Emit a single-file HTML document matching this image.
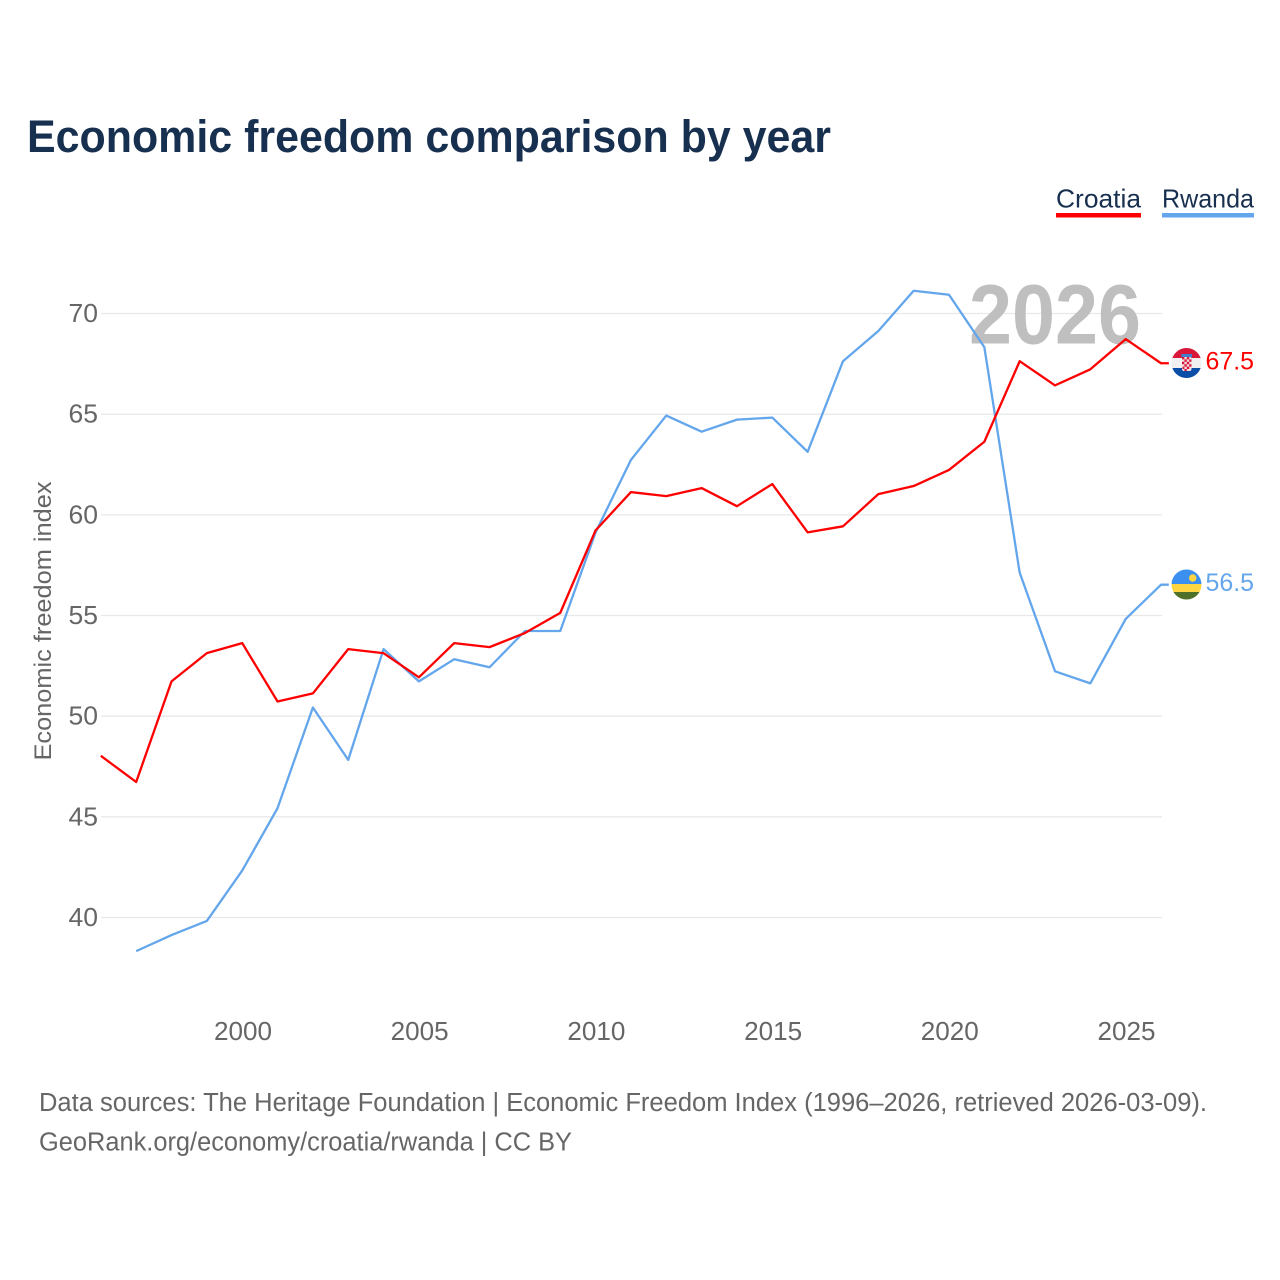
<!DOCTYPE html>
<html lang="en">
<head>
<meta charset="utf-8">
<title>Economic freedom comparison by year</title>
<style>
html,body{margin:0;padding:0;background:#fff;}
svg{display:block;}
text{font-family:"Liberation Sans",sans-serif;}
</style>
</head>
<body>
<svg id="chart" width="1280" height="1280" viewBox="0 0 1280 1280" xmlns="http://www.w3.org/2000/svg">
  <rect width="1280" height="1280" fill="#fff"/>
  <text x="27" y="152" font-size="45" font-weight="700" fill="#18304f" textLength="804" lengthAdjust="spacingAndGlyphs">Economic freedom comparison by year</text>

  <g>
    <text x="1056" y="207.5" font-size="26" fill="#18304f" textLength="85" lengthAdjust="spacingAndGlyphs">Croatia</text>
    <rect x="1056" y="213" width="85" height="4.5" fill="#ff0000"/>
  </g>
  <g>
    <text x="1162" y="207.5" font-size="26" fill="#18304f" textLength="92" lengthAdjust="spacingAndGlyphs">Rwanda</text>
    <rect x="1162" y="213" width="92" height="4.5" fill="#63a6ec"/>
  </g>

  <g id="grid"></g>
  <text x="1141" y="343.5" text-anchor="end" font-size="84" font-weight="700" fill="#bfbfbf" textLength="172" lengthAdjust="spacingAndGlyphs">2026</text>
  <g id="yticks"></g>
  <g id="xticks"></g>
  <text transform="translate(51,621) rotate(-90)" text-anchor="middle" font-size="24" fill="#666" textLength="279" lengthAdjust="spacingAndGlyphs">Economic freedom index</text>
  <g id="series"></g>

  <defs>
    <clipPath id="flag-clip-hr"><circle cx="1186.5" cy="363" r="15"/></clipPath>
    <clipPath id="flag-clip-rw"><circle cx="1186.5" cy="584.5" r="15"/></clipPath>
  </defs>
  <g clip-path="url(#flag-clip-hr)">
    <rect x="1171" y="348" width="31" height="10.5" fill="#d8173a"/>
    <rect x="1171" y="358" width="31" height="10.5" fill="#f0f0f0"/>
    <rect x="1171" y="368" width="31" height="11" fill="#0b4ea8"/>
    <rect x="1181.5" y="354" width="10.5" height="3.5" fill="#3f7fd0"/>
    <rect x="1182" y="357" width="9.5" height="14" rx="2" fill="#f3dfe0"/>
    <path d="M1182 357h2.4v2.4h-2.4zM1186.8 357h2.4v2.4h-2.4zM1184.4 359.4h2.4v2.4h-2.4zM1189.2 359.4h2.3v2.4h-2.3zM1182 361.8h2.4v2.4h-2.4zM1186.8 361.8h2.4v2.4h-2.4zM1184.4 364.2h2.4v2.4h-2.4zM1189.2 364.2h2.3v2.4h-2.3zM1182.5 366.6h1.9v2.4h-1.9zM1186.8 366.6h2.4v2.4h-2.4zM1184.4 369h2.4v2h-2.4z" fill="#d8173a"/>
  </g>
  <g clip-path="url(#flag-clip-rw)">
    <rect x="1171" y="569" width="31" height="15" fill="#3a8ff0"/>
    <rect x="1171" y="584" width="31" height="8" fill="#ffd642"/>
    <rect x="1171" y="592" width="31" height="8" fill="#4f7028"/>
    <circle cx="1192.7" cy="578" r="3.7" fill="#ffd642"/>
  </g>
  <text x="1205.5" y="369.5" font-size="25" fill="#ff0000" textLength="48.5" lengthAdjust="spacingAndGlyphs">67.5</text>
  <text x="1205.5" y="591" font-size="25" fill="#63a6ec" textLength="48.5" lengthAdjust="spacingAndGlyphs">56.5</text>

  <text x="39" y="1111" font-size="25.5" fill="#666" textLength="1168" lengthAdjust="spacingAndGlyphs">Data sources: The Heritage Foundation | Economic Freedom Index (1996–2026, retrieved 2026-03-09).</text>
  <a><text x="39" y="1150.5" font-size="25.5" fill="#666" textLength="533" lengthAdjust="spacingAndGlyphs">GeoRank.org/economy/croatia/rwanda | CC BY</text></a>
</svg>
<script>
const years = [1996,1997,1998,1999,2000,2001,2002,2003,2004,2005,2006,2007,2008,2009,2010,2011,2012,2013,2014,2015,2016,2017,2018,2019,2020,2021,2022,2023,2024,2025,2026];
const croatiaValues = [48,46.7,51.7,53.1,53.6,50.7,51.1,53.3,53.1,51.9,53.6,53.4,54.1,55.1,59.2,61.1,60.9,61.3,60.4,61.5,59.1,59.4,61,61.4,62.2,63.6,67.6,66.4,67.2,68.7,67.5];
const rwandaValues = [null,38.3,39.1,39.8,42.3,45.4,50.4,47.8,53.3,51.7,52.8,52.4,54.2,54.2,59.1,62.7,64.9,64.1,64.7,64.8,63.1,67.6,69.1,71.1,70.9,68.3,57.1,52.2,51.6,54.8,56.5];
const yTickLabels = [40,45,50,55,60,65,70];
const xTickLabels = [2000,2005,2010,2015,2020,2025];

const NS = 'http://www.w3.org/2000/svg';
function xScale(year){ return 243 + (year - 2000) * 35.34; }
function yScale(value){ return 917.5 - (value - 40) * 20.133; }
function make(tag, attrs, parent){
  const el = document.createElementNS(NS, tag);
  for (const k in attrs) el.setAttribute(k, attrs[k]);
  parent.appendChild(el);
  return el;
}
const grid = document.getElementById('grid');
const yticks = document.getElementById('yticks');
const xticks = document.getElementById('xticks');
const series = document.getElementById('series');

yTickLabels.forEach(function(v){
  const line = make('line', {x1:101, x2:1162, y1:yScale(v), y2:yScale(v), stroke:'#e8e8e8', 'stroke-width':1.3}, grid);
  
  
  const t = make('text', {x:98, y:yScale(v)+8.5, 'text-anchor':'end', 'font-size':25.5, fill:'#666', textLength:29.5, lengthAdjust:'spacingAndGlyphs'}, yticks);
  
  
  t.textContent = v;
});
xTickLabels.forEach(function(y){
  const t = make('text', {x:xScale(y), y:1040, 'text-anchor':'middle', 'font-size':25.5, fill:'#666', textLength:58, lengthAdjust:'spacingAndGlyphs'}, xticks);
  
  
  t.textContent = y;
});
function pathFor(values){
  let d = '';
  values.forEach(function(v, i){
    if (v === null) return;
    d += (d ? 'L' : 'M') + (xScale(years[i]) - 0.8).toFixed(2) + ' ' + (yScale(v) - 0.6).toFixed(2);
  });
  return d;
}
function drawSeries(values, color){
  const last = values[values.length - 1];
  const d = pathFor(values) + 'L' + (xScale(years[years.length - 1]) + 7).toFixed(2) + ' ' + (yScale(last) - 0.6).toFixed(2);
  return make('path', {d:d, fill:'none', stroke:color, 'stroke-width':2.3, 'stroke-linejoin':'round'}, series);
}
const rwandaLine = drawSeries(rwandaValues, '#63a6ec');


const croatiaLine = drawSeries(croatiaValues, '#ff0000');


</script>
</body>
</html>
